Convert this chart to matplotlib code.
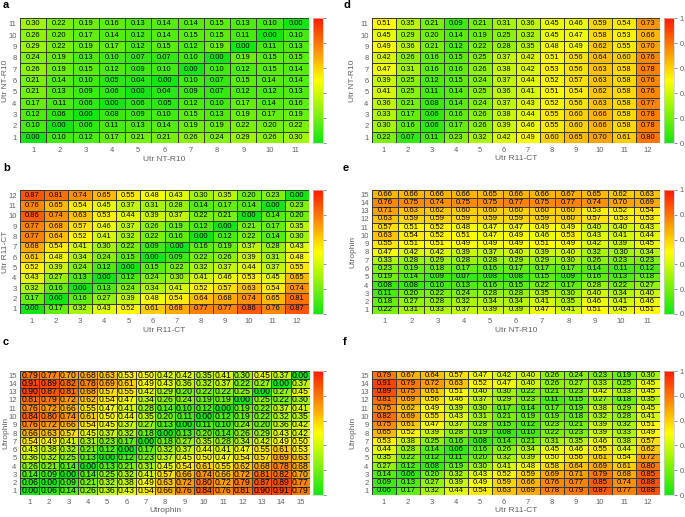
import numpy as np
import matplotlib
matplotlib.use("Agg")
import matplotlib.pyplot as plt
from matplotlib.colors import LinearSegmentedColormap

plt.rcParams['font.family'] = ['Liberation Sans', 'DejaVu Sans']

# rows listed from top (highest index) to bottom (index 1)
a_vals = [
    [0.30, 0.22, 0.19, 0.16, 0.13, 0.14, 0.14, 0.15, 0.13, 0.10, 0.00],
    [0.26, 0.20, 0.17, 0.14, 0.12, 0.14, 0.15, 0.15, 0.11, 0.00, 0.10],
    [0.29, 0.22, 0.19, 0.17, 0.12, 0.15, 0.12, 0.19, 0.00, 0.11, 0.13],
    [0.24, 0.19, 0.13, 0.10, 0.07, 0.07, 0.10, 0.00, 0.19, 0.15, 0.15],
    [0.26, 0.19, 0.15, 0.12, 0.09, 0.10, 0.00, 0.10, 0.12, 0.15, 0.14],
    [0.21, 0.14, 0.10, 0.05, 0.04, 0.00, 0.10, 0.07, 0.15, 0.14, 0.14],
    [0.21, 0.13, 0.09, 0.06, 0.00, 0.04, 0.09, 0.07, 0.12, 0.12, 0.13],
    [0.17, 0.11, 0.06, 0.00, 0.06, 0.05, 0.12, 0.10, 0.17, 0.14, 0.16],
    [0.12, 0.06, 0.00, 0.08, 0.09, 0.10, 0.15, 0.13, 0.19, 0.17, 0.19],
    [0.10, 0.00, 0.06, 0.11, 0.13, 0.14, 0.19, 0.19, 0.22, 0.20, 0.22],
    [0.00, 0.10, 0.12, 0.17, 0.21, 0.21, 0.26, 0.24, 0.29, 0.26, 0.30],
]
b_vals = [
    [0.87, 0.81, 0.74, 0.65, 0.55, 0.48, 0.43, 0.30, 0.35, 0.20, 0.23, 0.00],
    [0.76, 0.65, 0.54, 0.45, 0.37, 0.31, 0.28, 0.14, 0.17, 0.14, 0.00, 0.23],
    [0.86, 0.74, 0.63, 0.53, 0.44, 0.39, 0.37, 0.22, 0.21, 0.00, 0.14, 0.20],
    [0.77, 0.68, 0.57, 0.46, 0.37, 0.26, 0.19, 0.12, 0.00, 0.21, 0.17, 0.35],
    [0.77, 0.64, 0.52, 0.41, 0.32, 0.22, 0.16, 0.00, 0.12, 0.22, 0.14, 0.30],
    [0.68, 0.54, 0.41, 0.30, 0.22, 0.09, 0.00, 0.16, 0.19, 0.37, 0.28, 0.43],
    [0.61, 0.48, 0.34, 0.24, 0.15, 0.00, 0.09, 0.22, 0.26, 0.39, 0.31, 0.48],
    [0.52, 0.39, 0.24, 0.12, 0.00, 0.15, 0.22, 0.32, 0.37, 0.44, 0.37, 0.55],
    [0.43, 0.27, 0.13, 0.00, 0.12, 0.24, 0.30, 0.41, 0.46, 0.53, 0.45, 0.65],
    [0.32, 0.16, 0.00, 0.13, 0.24, 0.34, 0.41, 0.52, 0.57, 0.63, 0.54, 0.74],
    [0.17, 0.00, 0.16, 0.27, 0.39, 0.48, 0.54, 0.64, 0.68, 0.74, 0.65, 0.81],
    [0.00, 0.17, 0.32, 0.43, 0.52, 0.61, 0.68, 0.77, 0.77, 0.86, 0.76, 0.87],
]
c_vals = [
    [0.79, 0.77, 0.70, 0.68, 0.63, 0.53, 0.50, 0.42, 0.42, 0.35, 0.41, 0.30, 0.45, 0.37, 0.00],
    [0.91, 0.89, 0.82, 0.78, 0.69, 0.61, 0.49, 0.43, 0.36, 0.32, 0.37, 0.22, 0.27, 0.00, 0.37],
    [0.90, 0.87, 0.81, 0.68, 0.57, 0.55, 0.42, 0.29, 0.20, 0.22, 0.22, 0.25, 0.00, 0.27, 0.45],
    [0.81, 0.79, 0.72, 0.62, 0.54, 0.47, 0.34, 0.26, 0.24, 0.19, 0.19, 0.00, 0.25, 0.22, 0.30],
    [0.76, 0.72, 0.66, 0.55, 0.47, 0.41, 0.28, 0.14, 0.10, 0.12, 0.00, 0.19, 0.22, 0.37, 0.41],
    [0.84, 0.80, 0.74, 0.61, 0.50, 0.44, 0.35, 0.20, 0.11, 0.00, 0.12, 0.19, 0.22, 0.32, 0.35],
    [0.76, 0.72, 0.66, 0.54, 0.45, 0.37, 0.27, 0.13, 0.00, 0.11, 0.10, 0.24, 0.20, 0.36, 0.42],
    [0.66, 0.63, 0.57, 0.45, 0.37, 0.32, 0.18, 0.00, 0.13, 0.20, 0.14, 0.26, 0.29, 0.43, 0.42],
    [0.54, 0.49, 0.41, 0.31, 0.23, 0.17, 0.00, 0.18, 0.27, 0.35, 0.28, 0.34, 0.42, 0.49, 0.50],
    [0.43, 0.38, 0.32, 0.21, 0.12, 0.00, 0.17, 0.32, 0.37, 0.44, 0.41, 0.47, 0.55, 0.61, 0.53],
    [0.36, 0.32, 0.25, 0.13, 0.00, 0.12, 0.23, 0.37, 0.45, 0.50, 0.47, 0.54, 0.57, 0.69, 0.63],
    [0.26, 0.21, 0.14, 0.00, 0.13, 0.21, 0.31, 0.45, 0.54, 0.61, 0.55, 0.62, 0.68, 0.78, 0.68],
    [0.14, 0.09, 0.00, 0.14, 0.25, 0.32, 0.41, 0.57, 0.66, 0.74, 0.66, 0.72, 0.81, 0.82, 0.70],
    [0.06, 0.00, 0.09, 0.21, 0.32, 0.38, 0.49, 0.63, 0.72, 0.80, 0.72, 0.79, 0.87, 0.89, 0.77],
    [0.00, 0.06, 0.14, 0.26, 0.36, 0.43, 0.54, 0.66, 0.76, 0.84, 0.76, 0.81, 0.90, 0.91, 0.79],
]
d_vals = [
    [0.51, 0.35, 0.21, 0.09, 0.21, 0.31, 0.36, 0.45, 0.46, 0.59, 0.54, 0.73],
    [0.45, 0.29, 0.20, 0.14, 0.19, 0.25, 0.32, 0.45, 0.47, 0.58, 0.53, 0.66],
    [0.49, 0.36, 0.21, 0.12, 0.22, 0.28, 0.35, 0.48, 0.49, 0.62, 0.55, 0.70],
    [0.42, 0.26, 0.16, 0.15, 0.25, 0.37, 0.42, 0.51, 0.56, 0.64, 0.60, 0.76],
    [0.47, 0.31, 0.16, 0.16, 0.26, 0.38, 0.42, 0.53, 0.56, 0.63, 0.58, 0.78],
    [0.39, 0.25, 0.12, 0.15, 0.24, 0.37, 0.44, 0.52, 0.57, 0.63, 0.58, 0.76],
    [0.41, 0.25, 0.11, 0.14, 0.25, 0.36, 0.41, 0.51, 0.54, 0.62, 0.58, 0.76],
    [0.36, 0.21, 0.08, 0.14, 0.24, 0.37, 0.43, 0.52, 0.56, 0.63, 0.58, 0.77],
    [0.33, 0.17, 0.06, 0.16, 0.26, 0.38, 0.44, 0.55, 0.60, 0.66, 0.58, 0.78],
    [0.30, 0.16, 0.06, 0.17, 0.26, 0.39, 0.46, 0.55, 0.60, 0.66, 0.58, 0.78],
    [0.22, 0.07, 0.11, 0.23, 0.32, 0.42, 0.49, 0.60, 0.65, 0.70, 0.61, 0.80],
]
e_vals = [
    [0.66, 0.66, 0.66, 0.66, 0.65, 0.66, 0.66, 0.67, 0.65, 0.62, 0.63],
    [0.76, 0.75, 0.74, 0.75, 0.75, 0.77, 0.75, 0.77, 0.74, 0.70, 0.69],
    [0.71, 0.63, 0.62, 0.60, 0.60, 0.60, 0.60, 0.60, 0.53, 0.52, 0.54],
    [0.63, 0.59, 0.59, 0.59, 0.59, 0.59, 0.59, 0.60, 0.57, 0.53, 0.53],
    [0.57, 0.51, 0.52, 0.48, 0.47, 0.47, 0.49, 0.49, 0.40, 0.40, 0.43],
    [0.63, 0.54, 0.52, 0.51, 0.47, 0.49, 0.46, 0.53, 0.43, 0.41, 0.44],
    [0.55, 0.51, 0.51, 0.49, 0.49, 0.49, 0.51, 0.49, 0.42, 0.39, 0.45],
    [0.47, 0.42, 0.42, 0.39, 0.37, 0.40, 0.39, 0.40, 0.32, 0.30, 0.34],
    [0.33, 0.28, 0.29, 0.28, 0.28, 0.29, 0.29, 0.30, 0.26, 0.23, 0.23],
    [0.23, 0.19, 0.18, 0.17, 0.16, 0.17, 0.17, 0.17, 0.14, 0.11, 0.12],
    [0.19, 0.14, 0.09, 0.07, 0.08, 0.08, 0.15, 0.09, 0.16, 0.13, 0.18],
    [0.08, 0.08, 0.10, 0.13, 0.16, 0.15, 0.22, 0.17, 0.28, 0.22, 0.27],
    [0.11, 0.20, 0.22, 0.24, 0.28, 0.28, 0.35, 0.30, 0.40, 0.34, 0.40],
    [0.18, 0.27, 0.28, 0.32, 0.34, 0.34, 0.41, 0.35, 0.46, 0.41, 0.46],
    [0.22, 0.31, 0.33, 0.37, 0.39, 0.39, 0.47, 0.41, 0.51, 0.45, 0.51],
]
f_vals = [
    [0.79, 0.67, 0.64, 0.57, 0.47, 0.42, 0.40, 0.26, 0.24, 0.23, 0.19, 0.30],
    [0.91, 0.79, 0.72, 0.63, 0.52, 0.47, 0.40, 0.26, 0.27, 0.33, 0.25, 0.45],
    [0.89, 0.75, 0.61, 0.51, 0.40, 0.30, 0.22, 0.21, 0.23, 0.42, 0.33, 0.45],
    [0.81, 0.69, 0.56, 0.46, 0.37, 0.29, 0.23, 0.11, 0.15, 0.27, 0.18, 0.35],
    [0.75, 0.62, 0.49, 0.39, 0.30, 0.17, 0.14, 0.17, 0.19, 0.38, 0.29, 0.45],
    [0.82, 0.69, 0.55, 0.43, 0.31, 0.21, 0.19, 0.19, 0.18, 0.32, 0.28, 0.41],
    [0.75, 0.61, 0.47, 0.37, 0.28, 0.15, 0.12, 0.23, 0.21, 0.39, 0.32, 0.51],
    [0.65, 0.52, 0.39, 0.28, 0.19, 0.08, 0.10, 0.22, 0.23, 0.39, 0.33, 0.49],
    [0.53, 0.38, 0.25, 0.16, 0.08, 0.14, 0.21, 0.31, 0.35, 0.46, 0.38, 0.57],
    [0.44, 0.28, 0.14, 0.06, 0.16, 0.26, 0.34, 0.45, 0.46, 0.55, 0.44, 0.62],
    [0.35, 0.22, 0.12, 0.11, 0.20, 0.32, 0.39, 0.50, 0.56, 0.61, 0.54, 0.72],
    [0.27, 0.12, 0.08, 0.19, 0.30, 0.41, 0.48, 0.58, 0.64, 0.69, 0.61, 0.80],
    [0.14, 0.06, 0.20, 0.32, 0.43, 0.52, 0.59, 0.69, 0.71, 0.79, 0.68, 0.85],
    [0.09, 0.13, 0.27, 0.39, 0.49, 0.59, 0.66, 0.76, 0.77, 0.85, 0.74, 0.88],
    [0.06, 0.17, 0.32, 0.44, 0.54, 0.63, 0.69, 0.78, 0.79, 0.87, 0.77, 0.88],
]

panel_letters = ['a', 'b', 'c', 'd', 'e', 'f']
x_labels = ['Utr NT-R10', 'Utr R11-CT', 'Utrophin', 'Utr R11-CT', 'Utr NT-R10', 'Utr R11-CT']
y_labels = ['Utr NT-R10', 'Utr R11-CT', 'Utrophin', 'Utr NT-R10', 'Utrophin', 'Utrophin']
cbar_ticks = [0, 0.2, 0.4, 0.6, 0.8, 1]
cbar_ticklabels = ['0', '0.2', '0.4', '0.6', '0.8', '1']

W, H = 685, 517
fig = plt.figure(figsize=(W / 100, H / 100), dpi=100)

cmap = LinearSegmentedColormap.from_list('gyr', ['#14e614', '#ffff00', '#ff1a00'])

def px(x0, y0, w, h):
    return [x0 / W, 1 - (y0 + h) / H, w / W, h / H]

# (heatmap x0, width, y0, height, cbar x0, letter x, letter y, show cbar labels,
#  cell fontsize, ylabel right-edge px, xlabel top px)
layout = [
    (20, 289, 18, 125, 313, 3, 5, False, 5.4, 9, 156),
    (20, 289, 190, 124, 313, 3, 168, False, 5.4, 9, 327),
    (20, 290, 371, 124, 313, 3, 342, False, 6.2, 9, 507),
    (372, 288, 18, 125, 664, 343, 5, True, 5.4, 356, 155),
    (372, 288, 190, 124, 664, 343, 168, True, 5.6, 356, 327),
    (372, 288, 371, 124, 664, 343, 342, True, 5.6, 356, 507),
]

data_list = [a_vals, b_vals, c_vals, d_vals, e_vals, f_vals]
tick_color = '#606060'

for i, vals in enumerate(data_list):
    x0, w, y0, h, cx0, lx, ly, showlab, fs, ylx, xly = layout[i]
    arr = np.array(vals)[::-1]  # row 0 = index 1
    nr, nc = arr.shape
    ax = fig.add_axes(px(x0, y0, w, h))
    xe = np.arange(nc + 1) + 0.5
    ye = np.arange(nr + 1) + 0.5
    mesh = ax.pcolormesh(xe, ye, arr, cmap=cmap, vmin=0, vmax=1,
                         edgecolors='#3a3a3a', linewidth=0.5)
    for r in range(nr):
        for c in range(nc):
            ax.text(c + 1, r + 1, f"{arr[r, c]:.2f}", ha='center', va='center',
                    fontsize=fs, color='black')
    ax.set_xlim(0.5, nc + 0.5)
    ax.set_ylim(0.5, nr + 0.5)
    ax.set_xticks(np.arange(1, nc + 1))
    ax.set_yticks(np.arange(1, nr + 1))
    ax.set_xticklabels([str(k) for k in range(1, nc + 1)])
    ax.set_yticklabels([str(k) for k in range(1, nr + 1)])
    ax.tick_params(length=0, labelsize=5.5, colors=tick_color)
    ax.tick_params(axis='x', pad=2.8)
    ax.tick_params(axis='y', pad=2.5)
    for s in ax.spines.values():
        s.set_visible(False)
    ax.set_xlabel(x_labels[i], fontsize=6, color=tick_color)
    ax.set_ylabel(y_labels[i], fontsize=6, color=tick_color)
    ax.xaxis.set_label_coords(0.5, (y0 + h - xly) / h)
    ax.yaxis.set_label_coords((ylx - x0) / w, 0.5)

    cax = fig.add_axes(px(cx0, y0, 10, h))
    cb = fig.colorbar(mesh, cax=cax)
    cb.outline.set_edgecolor('#cccccc')
    cb.outline.set_linewidth(0.5)
    cb.set_ticks(cbar_ticks)
    if showlab:
        cb.set_ticklabels(cbar_ticklabels)
    else:
        cb.set_ticklabels([''] * len(cbar_ticks))
    cax.tick_params(length=2, width=0.5, colors=tick_color, labelsize=5.5, pad=2)

    fig.text(lx / W, 1 - ly / H, panel_letters[i], fontsize=8, fontweight='bold',
             ha='left', va='center')

fig.savefig('out.png', dpi=100)
